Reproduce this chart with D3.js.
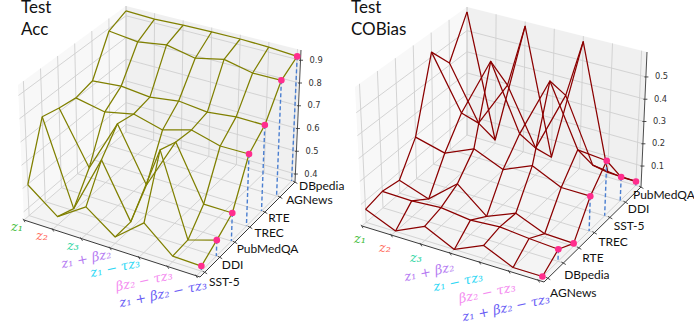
<!DOCTYPE html>
<html><head><meta charset="utf-8">
<script src="https://cdn.jsdelivr.net/npm/d3@7"></script>
<style>html,body{margin:0;padding:0;background:#fff}svg{display:block}</style>
</head><body><svg id="c" width="694" height="330"></svg>
<script>
const promptLabels = ["z₁","z₂","z₃","z₁ + βz₂","z₁ − τz₃","βz₂ − τz₃","z₁ + βz₂ − τz₃"];
const promptColors = ["#45bd3c","#ff6b5c","#2fd6a3","#b57bf2","#2fd8f5","#f48cf0","#6a5df5"];
const accDatasets = ["SST-5","DDI","PubMedQA","TREC","RTE","AGNews","DBpedia"];
const accTicks = [0.4,0.5,0.6,0.7,0.8,0.9];
const acc0 = [.498,.400,.481,.392,.490,.389,.386];
const acc1 = [.735,.374,.623,.395,.739,.395,.432];
const acc2 = [.716,.491,.720,.492,.714,.485,.484];
const acc3 = [.703,.677,.704,.670,.706,.672,.673];
const acc4 = [.721,.733,.719,.737,.723,.737,.736];
const acc5 = [.888,.873,.893,.867,.895,.868,.869];
const acc6 = [.923,.918,.923,.926,.926,.922,.913];
const accValues = [acc0,acc1,acc2,acc3,acc4,acc5,acc6];
const biasDatasets = ["AGNews","DBpedia","RTE","TREC","SST-5","DDI","PubMedQA"];
const biasTicks = [0.1,0.2,0.3,0.4,0.5];
const bias0 = [.063,.008,.067,.006,.062,.006,.006];
const bias1 = [.079,.076,.085,.069,.078,.066,.058];
const bias2 = [.064,.020,.126,.021,.073,.022,.018];
const bias3 = [.195,.161,.218,.163,.218,.159,.158];
const bias4 = [.522,.279,.551,.259,.532,.261,.249];
const bias5 = [.410,.168,.380,.129,.405,.127,.111];
const bias6 = [.589,.022,.591,.020,.587,.027,.024];
const biasValues = [bias0,bias1,bias2,bias3,bias4,bias5,bias6];

const panels = [
 {title:["Test","Acc"],tx:21,ty:[13,35],color:"#808000",values:accValues,datasets:accDatasets,ticks:accTicks,zd:[.365,.945],
  A:[24,220],B:[200,277],C:[295,182],D:[126,132],A1:[18,85],B1:[204,137],C1:[301,50],D1:[126,6],
  u:[0,.98],v:[.05,1],dashed:[0,1,2,3,4,5,6],
  dsOff:[[9,5],[6,4],[5,4],[7,3],[5,4],[7,2],[4,4]],
  promptPos:[[17,227,0],[42,236,0],[73,246,0],[87,259,-12],[116,268,-12],[145,281,-12],[164,294,-12]],tickFmt:".1f"},
 {title:["Test","COBias"],tx:351,ty:[13,35],color:"#8b0000",values:biasValues,datasets:biasDatasets,ticks:biasTicks,zd:[.006,.612],
  A:[362,226],B:[544,282],C:[641,187],D:[467,135],A1:[355,87],B1:[548,139],C1:[647,52],D1:[467,7],
  u:[0,.97],v:[.04,1],dashed:[1,3,4,5,6],
  dsOff:[[6,11],[4,9],[6,8],[6,7],[5,7],[3,6],[-8,8]],
  promptPos:[[360,239,0],[385,248,0],[416,258,0],[430,272,-12],[459,282,-12],[488,293,-12],[507,308,-12]],tickFmt:".1f"}
];
const svg = d3.select("#c");
const lerp=(a,b,t)=>[a[0]+(b[0]-a[0])*t,a[1]+(b[1]-a[1])*t];
panels.forEach(p=>{
  const g=svg.append("g");
  const n=p.values.length-1;
  const su=d3.scaleLinear().domain([0,n]).range(p.u);
  const sv=d3.scaleLinear().domain([0,n]).range(p.v);
  const sw=d3.scaleLinear().domain(p.zd).range([0,1]);
  const raw=(u,v,w)=>{
    const f=lerp(lerp(p.A,p.B,u),lerp(p.D,p.C,u),v);
    const t=lerp(lerp(p.A1,p.B1,u),lerp(p.D1,p.C1,u),v);
    return lerp(f,t,w);
  };
  const P=(i,j,z)=>raw(su(i),sv(j),sw(z));
  const line=d3.line();
  const poly=(pts,fill)=>g.append("path").attr("d",line(pts)+"Z").attr("fill",fill);
  poly([p.A,p.B,p.C,p.D],"#f4f4f4");
  poly([p.A,p.D,p.D1,p.A1],"#f8f8f8");
  poly([p.D,p.C,p.C1,p.D1],"#f0f0f0");
  const grid=(a,b)=>g.append("path").attr("d",line([a,b])).attr("stroke","#cfcfcf").attr("stroke-width",.9).attr("fill","none");
  d3.range(n+1).forEach(i=>{const u=su(i);grid(raw(u,0,0),raw(u,1,0));grid(raw(u,1,0),raw(u,1,1));});
  d3.range(n+1).forEach(j=>{const v=sv(j);grid(raw(0,v,0),raw(1,v,0));grid(raw(0,v,0),raw(0,v,1));});
  p.ticks.forEach(z=>{const w=sw(z);grid(raw(0,0,w),raw(0,1,w));grid(raw(0,1,w),raw(1,1,w));});
  const axis=(a,b,wd)=>g.append("path").attr("d",line([a,b])).attr("stroke","#3a3a3a").attr("stroke-width",wd||1).attr("fill","none");
  axis(p.A,p.B);axis(p.B,p.C);axis(p.C,p.C1,.9);
  d3.range(n+1).forEach(i=>{const q=raw(su(i),0,0);axis([q[0]-1,q[1]-1.2],[q[0]+1,q[1]+2.2],.9);});
  d3.range(n+1).forEach(j=>{const q=raw(1,sv(j),0);axis([q[0]-2,q[1]-1],[q[0]+2.4,q[1]+1.5],.9);});
  p.ticks.forEach(z=>{
    const q=raw(1,1,sw(z));
    axis([q[0]-1.5,q[1]],[q[0]+2.5,q[1]],.9);
    g.append("text").attr("x",q[0]+9).attr("y",q[1]+2.5).attr("font-family","DejaVu Sans").attr("font-size",8.3).attr("fill","#333").text(d3.format(p.tickFmt)(z));
  });
  const wire=pts=>g.append("path").attr("d",line(pts)).attr("fill","none").attr("stroke",p.color).attr("stroke-width",1.25).attr("stroke-linejoin","round");
  p.values.forEach((row,j)=>wire(row.map((z,i)=>P(i,j,z))));
  d3.range(n+1).forEach(i=>wire(p.values.map((row,j)=>P(i,j,row[i]))));
  p.dashed.forEach(j=>{
    g.append("path").attr("d",line([P(n,j,p.values[j][n]),P(n,j,p.zd[0])])).attr("stroke","#4a7ed0").attr("stroke-width",1.4).attr("stroke-dasharray","4,2.5").attr("fill","none");
  });
  p.values.forEach((row,j)=>{const q=P(n,j,row[n]);
    g.append("circle").attr("cx",q[0]).attr("cy",q[1]).attr("r",3.3).attr("fill","#ff2d8d");});
  p.datasets.forEach((s,j)=>{const q=raw(1,j/n,0);
    g.append("text").attr("x",q[0]+p.dsOff[j][0]).attr("y",q[1]+p.dsOff[j][1]+4).attr("font-family","Lato").attr("font-size",12).attr("fill","#111").text(s);});
  promptLabels.forEach((s,i)=>{const c=p.promptPos[i];
    g.append("text").attr("transform",`translate(${c[0]},${c[1]+4}) rotate(${c[2]})`).attr("text-anchor","middle")
     .attr("font-family","DejaVu Serif").attr("font-style","italic").attr("font-size",13).attr("fill",promptColors[i]).text(s);});
  p.title.forEach((s,k)=>g.append("text").attr("x",p.tx).attr("y",p.ty[k]).attr("font-family","Lato").attr("font-size",17).attr("fill","#111").text(s));
});
</script></body></html>
